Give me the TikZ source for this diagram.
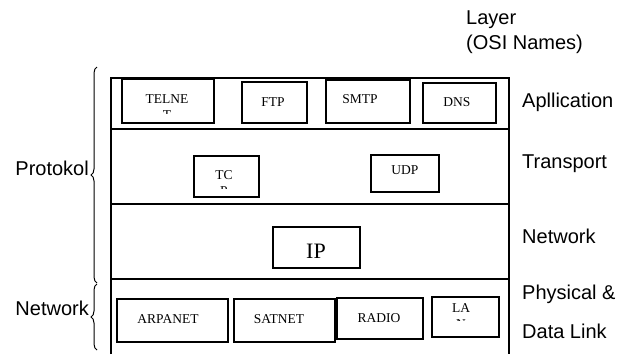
\documentclass[tikz,border=0pt]{standalone}
\usepackage{fontspec}
\setmainfont{Liberation Sans}
\newfontfamily\boxfont{Liberation Serif}
\usepackage{tikz}
\usetikzlibrary{decorations.pathreplacing}

\tikzset{
  frameline/.style={line width=2pt},
  boxline/.style={line width=1.3pt},
  boxtext/.style={font=\boxfont\fontsize{13.5}{16}\selectfont, inner sep=0pt, anchor=base},
  cuttext/.style={boxtext, align=center, anchor=north},
  layertext/.style={font=\fontsize{20}{24}\selectfont, inner sep=0pt, anchor=base west},
  sidetext/.style={font=\fontsize{20}{24}\selectfont, inner sep=0pt, anchor=base east},
  bracket/.style={line width=1pt, decorate, decoration={brace, amplitude=6pt}}
}

\begin{document}
\begin{tikzpicture}[x=1pt,y=-1pt]
  \path[use as bounding box] (0,0) rectangle (630,354);

  % header
  \node[layertext] (layerhead) at (466,24) {Layer};
  \node[layertext] (osihead) at (466,49) {(OSI Names)};

  % stack frame
  \draw[frameline] (111,354) -- (111,78) -- (509,78) -- (509,354);
  \draw[frameline] (111,129) -- (509,129);
  \draw[frameline] (111,204) -- (509,204);
  \draw[frameline] (111,279) -- (509,279);

  % Application layer
  \draw[boxline] (122,79) rectangle (214,123);
  \begin{scope}
    \clip (122,79) rectangle (214,113);
    \node[cuttext] (telnet) at (167,94) {TELNE\\T};
  \end{scope}
  \draw[boxline] (242,82) rectangle (307,123);
  \node[boxtext] (ftp) at (273,106) {FTP};
  \draw[boxline] (326,80) rectangle (410,123);
  \node[boxtext] (smtp) at (360,103) {SMTP};
  \draw[boxline] (423,83) rectangle (496,123);
  \node[boxtext] (dns) at (457,106) {DNS};
  \node[layertext] (apllication) at (522,107) {Apllication};

  % Transport layer
  \draw[boxline] (194,156) rectangle (259,197);
  \begin{scope}
    \clip (194,156) rectangle (259,188);
    \node[cuttext] (tcp) at (224,170) {TC\\P};
  \end{scope}
  \draw[boxline] (371,155) rectangle (439,192);
  \node[boxtext] (udp) at (405,174) {UDP};
  \node[layertext] (transport) at (522,168) {Transport};

  % Network layer
  \draw[boxline] (273,227) rectangle (360,268);
  \node[boxtext, font=\boxfont\fontsize{22}{26}\selectfont] (ip) at (316,258) {IP};
  \node[layertext] (network) at (522,243) {Network};

  % Physical & Data Link layer
  \draw[boxline] (117,299) rectangle (228,342);
  \node[boxtext] (arpanet) at (168,323) {ARPANET};
  \draw[boxline] (234,299) rectangle (335,342);
  \node[boxtext] (satnet) at (279,323) {SATNET};
  \draw[boxline] (337,298) rectangle (423,339);
  \node[boxtext] (radio) at (379,322) {RADIO};
  \draw[boxline] (432,297) rectangle (499,337);
  \begin{scope}
    \clip (432,297) rectangle (499,320);
    \node[cuttext] (lan) at (461,303) {LA\\N};
  \end{scope}
  \node[layertext] (physical) at (522,299) {Physical \&};
  \node[layertext] (datalink) at (522,338) {Data Link};

  % left groups
  \draw[bracket] (97,283) -- (97,67);
  \node[sidetext] (protokol) at (89,175) {Protokol};
  \draw[bracket] (97,350) -- (97,284);
  \node[sidetext] (netgroup) at (89,315) {Network};
\end{tikzpicture}
\end{document}
